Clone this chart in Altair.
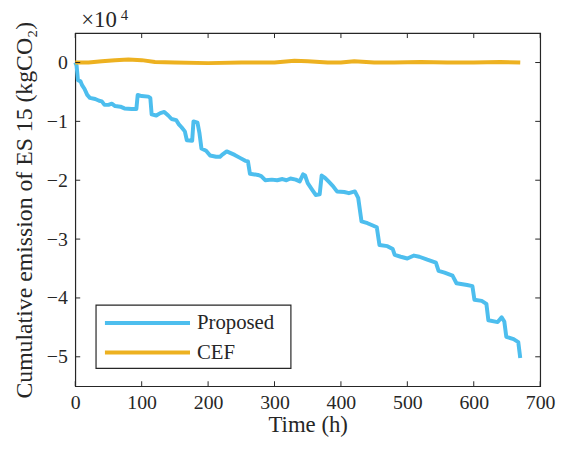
import altair as alt
import pandas as pd

# Proposed: cumulative emission (x10^4 kgCO2) vs time (h)
prop_hours = [0, 2, 4, 8, 10, 14, 18, 22, 30, 36, 40, 44, 50, 55, 60, 68, 74, 85, 92, 94,
              100, 110, 113, 115, 122, 128, 134, 140, 145, 152, 156, 160, 165, 168, 176, 178,
              184, 187, 190, 197, 203, 212, 218, 222, 228, 234, 240, 248, 256, 260, 263, 275,
              280, 286, 296, 304, 312, 318, 324, 332, 338, 343, 346, 350, 356, 362, 368, 371,
              376, 382, 388, 394, 405, 412, 421, 426, 431, 440, 448, 454, 458, 470, 478, 481,
              490, 500, 510, 518, 530, 543, 547, 556, 568, 574, 590, 598, 601, 612, 619, 622,
              636, 642, 646, 649, 660, 667, 670]
prop_vals = [0, -0.05, -0.3, -0.32, -0.38, -0.45, -0.55, -0.6, -0.62, -0.65, -0.66, -0.72, -0.72,
             -0.7, -0.74, -0.75, -0.78, -0.79, -0.79, -0.55, -0.57, -0.58, -0.6, -0.88, -0.9,
             -0.86, -0.84, -0.9, -0.96, -0.98, -1.05, -1.1, -1.17, -1.32, -1.33, -1.0, -1.02,
             -1.2, -1.46, -1.5, -1.58, -1.6, -1.6, -1.56, -1.51, -1.54, -1.57, -1.62, -1.67,
             -1.68, -1.89, -1.91, -1.93, -2.0, -1.99, -2.0, -1.98, -2.0, -1.97, -1.99, -2.02,
             -1.9, -1.92, -2.05, -2.15, -2.25, -2.24, -1.92, -1.96, -2.03, -2.1, -2.19, -2.2,
             -2.22, -2.19, -2.3, -2.7, -2.73, -2.77, -2.8, -3.1, -3.12, -3.17, -3.27, -3.3,
             -3.33, -3.28, -3.3, -3.35, -3.4, -3.54, -3.57, -3.62, -3.75, -3.78, -3.8, -4.03,
             -4.05, -4.1, -4.38, -4.41, -4.33, -4.4, -4.66, -4.7, -4.75, -5.02]

# CEF
cef_hours = [0, 20, 40, 60, 80, 100, 120, 150, 200, 250, 300, 330, 350, 380, 400, 420, 450,
             480, 520, 560, 600, 640, 670]
cef_vals = [0, 0.0, 0.02, 0.04, 0.05, 0.04, 0.01, 0.0, -0.01, 0.0, 0.0, 0.03, 0.02, 0.0, 0.0,
            0.02, 0.0, 0.0, 0.01, 0.0, 0.0, 0.01, 0.0]

series_names = ["Proposed", "CEF"]
series_colors = ["#4DBEEE", "#EDB120"]
x_ticks = [0, 100, 200, 300, 400, 500, 600, 700]
y_ticks = [-5, -4, -3, -2, -1, 0]
x_title = "Time (h)"
y_title = "Cumulative emission of ES 15 (kgCO₂)"

df = pd.concat([
    pd.DataFrame({"hour": prop_hours, "val": prop_vals, "series": "Proposed", "o": range(len(prop_hours))}),
    pd.DataFrame({"hour": cef_hours, "val": cef_vals, "series": "CEF", "o": range(len(cef_hours))}),
])

W, H = 470, 357
FONT = "Liberation Serif"
AX = "#262626"

xscale = alt.Scale(domain=[0, 700], nice=False, zero=False)
yscale = alt.Scale(domain=[-5.5, 0.5], nice=False, zero=False)

xaxis = alt.Axis(values=x_ticks, ticks=False, domain=False, grid=False,
                 labelFont=FONT, labelFontSize=20, labelColor=AX, labelPadding=7,
                 titleFont=FONT, titleFontSize=23, titleFontWeight="normal",
                 titleColor=AX, titlePadding=1, labelFlush=False)
yaxis = alt.Axis(values=y_ticks, ticks=False, domain=False, grid=False,
                 labelFont=FONT, labelFontSize=20, labelColor=AX, labelPadding=8,
                 titleFont=FONT, titleFontSize=24, titleFontWeight="normal",
                 titleColor=AX, titlePadding=10, labelFlush=False)

lines = alt.Chart(df).mark_line(strokeWidth=4, strokeJoin="round", strokeCap="butt").encode(
    x=alt.X("hour:Q", scale=xscale, title=x_title, axis=xaxis),
    y=alt.Y("val:Q", scale=yscale, title=y_title, axis=yaxis),
    color=alt.Color("series:N", scale=alt.Scale(domain=series_names, range=series_colors),
                    legend=None),
    order="o:Q",
)

xt = pd.DataFrame({"v": x_ticks})
yt = pd.DataFrame({"v": y_ticks})
TL = 5
tick_b = alt.Chart(xt).mark_rule(color=AX, strokeWidth=1).encode(
    x=alt.X("v:Q", scale=xscale, title=x_title, axis=xaxis), y=alt.value(H), y2=alt.value(H - TL))
tick_t = alt.Chart(xt).mark_rule(color=AX, strokeWidth=1).encode(
    x=alt.X("v:Q", scale=xscale, title=x_title, axis=xaxis), y=alt.value(0), y2=alt.value(TL))
tick_l = alt.Chart(yt).mark_rule(color=AX, strokeWidth=1).encode(
    y=alt.Y("v:Q", scale=yscale, title=y_title, axis=yaxis), x=alt.value(0), x2=alt.value(TL))
tick_r = alt.Chart(yt).mark_rule(color=AX, strokeWidth=1).encode(
    y=alt.Y("v:Q", scale=yscale, title=y_title, axis=yaxis), x=alt.value(W), x2=alt.value(W - TL))

# exponent label
exp_base = alt.Chart(pd.DataFrame({"t": ["×10"]})).mark_text(
    font=FONT, fontSize=23, color=AX, align="left", baseline="alphabetic").encode(
    text="t:N", x=alt.value(6), y=alt.value(-6))
exp_sup = alt.Chart(pd.DataFrame({"t": ["4"]})).mark_text(
    font=FONT, fontSize=15, color=AX, align="left", baseline="alphabetic").encode(
    text="t:N", x=alt.value(46), y=alt.value(-13))

# legend (drawn as decoration inside the axes)
leg_box = alt.Chart(pd.DataFrame({"k": [0]})).mark_rect(
    fill="white", stroke=AX, strokeWidth=1.2).encode(
    x=alt.value(21), x2=alt.value(218), y=alt.value(275), y2=alt.value(339))
leg_layers = []
for i, (name, col) in enumerate(zip(series_names, series_colors)):
    yy = 293 + 30 * i
    d = pd.DataFrame({"name": [name]})
    leg_layers.append(alt.Chart(d).mark_rule(color=col, strokeWidth=4).encode(
        x=alt.value(30), x2=alt.value(116), y=alt.value(yy)))
    leg_layers.append(alt.Chart(d).mark_text(
        font=FONT, fontSize=21, color=AX, align="left", baseline="middle").encode(
        text="name:N", x=alt.value(123), y=alt.value(yy)))

chart = alt.layer(lines, tick_b, tick_t, tick_l, tick_r, exp_base, exp_sup,
                  leg_box, *leg_layers).properties(
    width=W, height=H,
    autosize=alt.AutoSizeParams(type="none"),
    padding={"left": 68, "top": 23, "right": 16, "bottom": 52},
).configure_view(stroke=AX, strokeWidth=1.2)

chart.save("out.html", embed_options={"renderer": "svg", "actions": False})
